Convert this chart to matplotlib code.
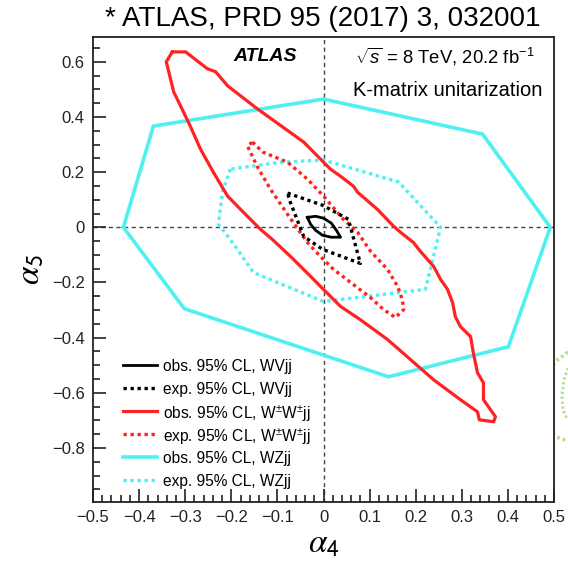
import numpy as np
import matplotlib
matplotlib.use("Agg")
import matplotlib.pyplot as plt
from matplotlib.ticker import MultipleLocator

plt.rcParams['font.family'] = ['Liberation Sans', 'DejaVu Sans']
plt.rcParams['mathtext.fontset'] = 'custom'
plt.rcParams['mathtext.rm'] = 'Liberation Sans'
plt.rcParams['mathtext.it'] = 'Liberation Sans:italic'
plt.rcParams['mathtext.bf'] = 'Liberation Sans:bold'

# 95% CL contours in the (alpha4, alpha5) plane, K-matrix unitarization
wz_obs_a4 = [-0.434, -0.369, 0.0, 0.345, 0.492, 0.401, 0.141, -0.302, -0.434]
wz_obs_a5 = [0.0, 0.367, 0.465, 0.338, 0.0, -0.433, -0.542, -0.295, 0.0]

wz_exp_a4 = [-0.202, -0.219, -0.228, -0.202, -0.152, 0.0, 0.221, 0.254, 0.163, 0.0, -0.093, -0.202]
wz_exp_a5 = [0.211, 0.131, 0.011, -0.044, -0.164, -0.269, -0.225, 0.0, 0.164, 0.244, 0.236, 0.211]

ww_obs_a4 = [-0.328, -0.299, -0.252, -0.234, -0.208, -0.143, -0.043, 0.015, 0.037, 0.065,
             0.074, 0.117, 0.152, 0.167, 0.195, 0.210, 0.239, 0.254, 0.269, 0.280,
             0.286, 0.297, 0.319, 0.325, 0.334, 0.347, 0.347, 0.373, 0.369, 0.338,
             0.334, 0.297, 0.239, 0.189, 0.139, 0.080, 0.037, -0.002, -0.028, -0.072,
             -0.111, -0.137, -0.174, -0.208, -0.239, -0.267, -0.289, -0.310, -0.325, -0.341,
             -0.328]
ww_obs_a5 = [0.636, 0.636, 0.575, 0.564, 0.513, 0.429, 0.309, 0.211, 0.185, 0.149,
             0.127, 0.065, 0.004, -0.018, -0.055, -0.087, -0.142, -0.189, -0.225, -0.273,
             -0.324, -0.360, -0.396, -0.455, -0.527, -0.564, -0.625, -0.687, -0.705, -0.698,
             -0.669, -0.625, -0.553, -0.480, -0.407, -0.335, -0.287, -0.222, -0.178, -0.105,
             -0.044, -0.007, 0.055, 0.113, 0.200, 0.284, 0.367, 0.440, 0.491, 0.600,
             0.636]

ww_exp_a4 = [-0.154, -0.132, -0.078, -0.035, 0.0, 0.043, 0.074, 0.102, 0.139, 0.161,
             0.171, 0.174, 0.156, 0.130, 0.102, 0.059, 0.022, -0.007, -0.035, -0.078,
             -0.115, -0.143, -0.165, -0.154]
ww_exp_a5 = [0.309, 0.273, 0.236, 0.175, 0.113, 0.029, -0.018, -0.087, -0.153, -0.215,
             -0.262, -0.298, -0.327, -0.298, -0.255, -0.200, -0.153, -0.105, -0.055, 0.047,
             0.138, 0.218, 0.295, 0.309]

wv_exp_a4 = [-0.078, -0.002, 0.054, 0.080, -0.002, -0.043, -0.072, -0.078]
wv_exp_a5 = [0.124, 0.080, 0.029, -0.131, -0.080, -0.033, 0.091, 0.124]

wv_obs_a4 = [-0.035, -0.017, 0.0, 0.017, 0.028, 0.037, 0.017, -0.002, -0.017, -0.028, -0.035]
wv_obs_a5 = [0.036, 0.040, 0.033, 0.015, -0.011, -0.036, -0.036, -0.029, -0.011, 0.011, 0.036]

# contour of the neighbouring panel poking in at the right edge (figure pixels)
side_x = [568, 556, 546, 539, 536, 539, 549, 559, 568]
side_y = [352, 361, 374, 388, 402, 417, 431, 438, 441]
side_in_x = [568, 564, 562, 563, 567]
side_in_y = [368, 380, 395, 410, 419]

CYAN = '#4ff0f2'
RED = '#ff2222'
dotted = (0, (1, 1.1))

styles = {
    'wz_obs': dict(color=CYAN, lw=2.6, ls='-'),
    'wz_exp': dict(color=CYAN, lw=2.4, ls=dotted),
    'ww_obs': dict(color=RED, lw=2.3, ls='-'),
    'ww_exp': dict(color=RED, lw=2.4, ls=dotted),
    'wv_exp': dict(color='black', lw=2.4, ls=dotted),
    'wv_obs': dict(color='black', lw=2.0, ls='-'),
}

fig = plt.figure(figsize=(5.68, 5.70), dpi=100)
ax = fig.add_axes([93 / 568, 1 - 502 / 570, 461 / 568, 465 / 570])

ax.axhline(0, color='#444444', lw=1.0, ls=(0, (3, 2.5)), zorder=1)
ax.axvline(0, color='#444444', lw=1.0, ls=(0, (3, 2.5)), zorder=1)

ax.plot(wz_obs_a4, wz_obs_a5, **styles['wz_obs'])
ax.plot(wz_exp_a4, wz_exp_a5, **styles['wz_exp'])
ax.plot(ww_obs_a4, ww_obs_a5, **styles['ww_obs'])
ax.plot(ww_exp_a4, ww_exp_a5, **styles['ww_exp'])
ax.plot(wv_exp_a4, wv_exp_a5, **styles['wv_exp'])
ax.plot(wv_obs_a4, wv_obs_a5, **styles['wv_obs'])

# legend drawn by hand so the rows stay evenly spaced
legend_keys = ['wv_obs', 'wv_exp', 'ww_obs', 'ww_exp', 'wz_obs', 'wz_exp']
labels = ['obs. 95% CL, WVjj', 'exp. 95% CL, WVjj',
          r'obs. 95% CL, W$^{\pm}$W$^{\pm}$jj', r'exp. 95% CL, W$^{\pm}$W$^{\pm}$jj',
          'obs. 95% CL, WZjj', 'exp. 95% CL, WZjj']
row_y = 0.295
for key, lab in zip(legend_keys, labels):
    ax.plot([0.065, 0.139], [row_y, row_y], transform=ax.transAxes, clip_on=False,
            **styles[key])
    ax.text(0.152, row_y, lab, transform=ax.transAxes, ha='left', va='center_baseline',
            fontsize=11.2)
    row_y -= 0.0495

ax.set_xlim(-0.5, 0.5)
ax.set_ylim(-0.996, 0.69)
ax.xaxis.set_major_locator(MultipleLocator(0.1))
ax.xaxis.set_minor_locator(MultipleLocator(0.02))
ax.yaxis.set_major_locator(MultipleLocator(0.2))
ax.yaxis.set_minor_locator(MultipleLocator(0.05))
fmt = plt.FuncFormatter(lambda v, p: f'{v:g}'.replace('-', '\u2212') if abs(v) > 1e-9 else '0')
ax.xaxis.set_major_formatter(fmt)
ax.yaxis.set_major_formatter(fmt)
ax.tick_params(which='both', direction='in', top=False, right=False, width=1.2,
               labelsize=12, pad=6, colors='#222222')
ax.tick_params(which='major', length=9.5)
ax.tick_params(which='minor', length=5)
for s in ax.spines.values():
    s.set_linewidth(1.3)
    s.set_color('#222222')

ax.set_xlabel(r'$\alpha_{\mathsf{4}}$', fontsize=24, math_fontfamily='stix', labelpad=2)
ax.set_ylabel(r'$\alpha_{\mathsf{5}}$', fontsize=24, math_fontfamily='stix', labelpad=4)

ax.text(0.373, 0.957, 'ATLAS', transform=ax.transAxes, ha='center', va='center',
        fontsize=14, fontweight='bold', fontstyle='italic')
ax.text(0.959, 0.957, r'$\sqrt{s}$ = 8 TeV, 20.2 fb$^{-1}$', transform=ax.transAxes,
        ha='right', va='center', fontsize=13.3)
ax.text(0.974, 0.886, 'K-matrix unitarization', transform=ax.transAxes,
        ha='right', va='center', fontsize=14.5)

fig.text(323 / 568, 1 - 19 / 570, '* ATLAS, PRD 95 (2017) 3, 032001',
         ha='center', va='center', fontsize=20)

# overlay in figure pixels for the clipped neighbour contour
ov = fig.add_axes([0, 0, 1, 1], zorder=-1)
ov.set_xlim(0, 568)
ov.set_ylim(570, 0)
ov.axis('off')
ov.plot(side_x, side_y, color='#a9d882', lw=2.6, ls=(0, (0.8, 0.8)), alpha=0.8)
ov.plot(side_in_x, side_in_y, color='#a9d882', lw=2.2, ls=(0, (0.8, 0.8)), alpha=0.8)

fig.savefig('out.png', dpi=100)
